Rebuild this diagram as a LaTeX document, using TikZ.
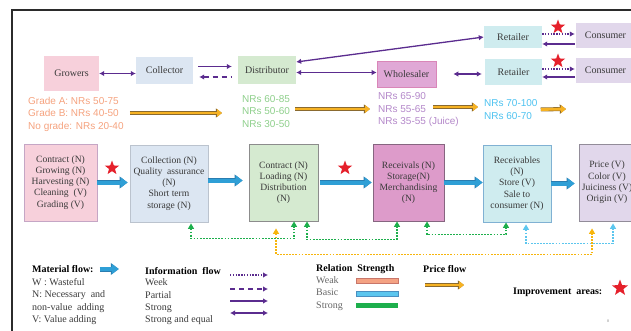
\documentclass[tikz,border=0pt]{standalone}
\usepackage{fontspec}
\setmainfont{Liberation Serif}
\setsansfont{Liberation Sans}
\usetikzlibrary{arrows.meta,shapes.geometric}

\definecolor{infopurple}{HTML}{5B2C8F}
\definecolor{matblue}{HTML}{2F9FD6}
\definecolor{matedge}{HTML}{2A7DB0}
\definecolor{pricegold}{HTML}{F6B223}
\definecolor{priceedge}{HTML}{8A6A30}
\definecolor{growpink}{HTML}{F7D0DB}
\definecolor{collblue}{HTML}{DCE6F2}
\definecolor{distgreen}{HTML}{D5EAD0}
\definecolor{wholemag}{HTML}{E0A8D6}
\definecolor{retcyan}{HTML}{CFECEF}
\definecolor{conslav}{HTML}{E1D7EB}
\definecolor{weakred}{HTML}{F4A283}
\definecolor{weakedge}{HTML}{C8766A}
\definecolor{basicblue}{HTML}{5CC6EE}
\definecolor{basicedge}{HTML}{4A8FC0}
\definecolor{stronggreen}{HTML}{1DAF4C}
\definecolor{weakgold}{HTML}{F7B50C}
\definecolor{priceorange}{HTML}{F5A27E}
\definecolor{pricegreen}{HTML}{8ECF8B}
\definecolor{pricepurple}{HTML}{B387C9}
\definecolor{pricecyan}{HTML}{4DC2F0}
\definecolor{starred}{HTML}{E5202B}
\definecolor{txtgray}{HTML}{3A3A3A}
\definecolor{framegray}{HTML}{2B2B2B}

\tikzset{
  actor/.style={inner sep=0pt, text=txtgray, font=\fontsize{10}{12}\selectfont},
  stagebox/.style={line width=0.8pt, inner sep=1pt, align=center, text=txtgray,
    font=\fontsize{9.6}{11.2}\selectfont, minimum height=77pt},
  pricetxt/.style={inner sep=0pt, align=left, anchor=west, font=\sffamily\fontsize{10}{12.5}\selectfont},
  info/.style={draw=infopurple, line width=1.3pt},
  weekline/.style={dash pattern=on 1.3pt off 1.5pt},
  partline/.style={dash pattern=on 5pt off 4pt},
  material/.style={line width=4pt, draw=matblue, -{Triangle[length=7pt,width=10pt]},
    preaction={draw=matedge, line width=5pt, -{Triangle[length=8pt,width=11.5pt]}}},
  price/.style={line width=2.8pt, draw=pricegold, -{Triangle[length=5pt,width=7.5pt]},
    preaction={draw=priceedge, line width=4pt, -{Triangle[length=6.2pt,width=9pt]}}},
  relation/.style={line width=1.8pt, dash pattern=on 1.8pt off 1.3pt,
    {Triangle[length=5.5pt,width=6pt]}-{Triangle[length=5.5pt,width=6pt]}},
  improve/.style={star, star points=5, star point ratio=2.4, fill=starred, inner sep=0pt, minimum size=15pt},
  leghead/.style={inner sep=0pt, anchor=west, font=\bfseries\fontsize{10}{12}\selectfont},
  legtxt/.style={inner sep=0pt, anchor=west, align=left, text=txtgray, font=\fontsize{10}{12.3}\selectfont},
}

\begin{document}
\begin{tikzpicture}[x=1pt,y=-1pt,>={Latex[length=5pt,width=5.5pt]}]
\useasboundingbox (0,0) rectangle (631,331);
\draw[line width=2.5pt, framegray] (12,345) -- (12,10) -- (645,10);

% actors
\node[actor, fill=growpink, minimum width=55pt, minimum height=35pt] (gro) at (71.5,73.5) {Growers};
\node[actor, fill=collblue, minimum width=57pt, minimum height=27pt] (col) at (164.5,70.5) {Collector};
\node[actor, fill=distgreen, minimum width=58pt, minimum height=28pt] (dis) at (267,70) {Distributor};
\node[actor, fill=wholemag, draw=wholemag!80!purple, line width=0.6pt, minimum width=59pt, minimum height=26pt] (whl) at (406.5,74) {Wholesaler};
\node[actor, fill=retcyan, minimum width=58pt, minimum height=22pt] (retA) at (513,37) {Retailer};
\node[actor, fill=conslav, minimum width=59pt, minimum height=25pt] (conA) at (605.5,35.5) {Consumer};
\node[actor, fill=retcyan, minimum width=57pt, minimum height=26pt] (retB) at (513.5,72) {Retailer};
\node[actor, fill=conslav, minimum width=59pt, minimum height=25pt] (conB) at (605.5,70.5) {Consumer};

% information flow
\draw[info, <->] (gro.east) -- (gro.east -| col.west);
\coordinate (cd1) at ([yshift=4pt]col.east);
\coordinate (cd2) at ([yshift=-6.5pt]col.east);
\draw[info, ->, shorten <=5pt, shorten >=6pt] (cd1) -- (cd1 -| dis.west);
\draw[info, partline, <-, shorten <=6pt, shorten >=6pt] (cd2) -- (cd2 -| dis.west);
\draw[info, <->] ([yshift=8pt]dis.east) -- (retA.west);
\coordinate (dw) at ([yshift=-2.5pt]dis.east);
\draw[info, <->] (dw) -- (dw -| whl.west);
\draw[info, <->, shorten <=17pt, shorten >=3pt] (whl.east) -- (whl.east -| retB.west);
\coordinate (rc1) at ([yshift=3pt]retA.east);
\coordinate (rc2) at ([yshift=-7pt]retA.east);
\draw[info, weekline, ->, shorten >=1pt] (rc1) -- (rc1 -| conA.west);
\draw[info, <-, shorten >=1pt] (rc2) -- (rc2 -| conA.west);
\coordinate (rc3) at ([yshift=3pt]retB.east);
\coordinate (rc4) at ([yshift=-5pt]retB.east);
\draw[info, weekline, ->, shorten >=1pt] (rc3) -- (rc3 -| conB.west);
\draw[info, <-, shorten >=1pt] (rc4) -- (rc4 -| conB.west);
\node[improve] (stA) at (558,27) {};
\node[improve] (stB) at (558,61) {};

% prices
\node[pricetxt, text=priceorange] (pGro) at (28,114) {Grade A: NRs 50-75\\Grade B: NRs 40-50\\No grade: NRs 20-40};
\node[pricetxt, text=pricegreen] (pDis) at (242,111.5) {NRs 60-85\\NRs 50-60\\NRs 30-50};
\node[pricetxt, text=pricepurple] (pWhl) at (378,110) {NRs 65-90\\NRs 55-65\\NRs 35-55 (Juice)};
\node[pricetxt, text=pricecyan] (pRet) at (484,109.5) {NRs 70-100\\NRs 60-70};
\coordinate (pg1) at ([xshift=6pt,yshift=1pt]pGro.east);
\draw[price, shorten >=20pt] (pg1) -- (pg1 -| pDis.west);
\coordinate (pd1) at ([xshift=5pt,yshift=2.5pt]pDis.east);
\draw[price, shorten >=8pt] (pd1) -- (pd1 -| pWhl.west);
\coordinate (pw1) at ([xshift=55pt,yshift=3pt]pWhl.west);
\draw[price, shorten >=6pt] (pw1) -- (pw1 -| pRet.west);
\coordinate (pEnd) at (566,109);
\draw[price] ([xshift=3pt]pRet.east) -- (pEnd);

% stages
\node[stagebox, fill=growpink, draw=black!30!violet!35, minimum width=73pt] (sGro) at (60.5,182.5)
  {Contract (N)\\Growing (N)\\Harvesting (N)\\Cleaning\ \ (V)\\Grading (V)};
\node[stagebox, fill=collblue, draw=collblue!85!black, minimum width=78pt] (sCol) at (169,183.5)
  {Collection (N)\\Quality\ \ assurance\\(N)\\Short term\\storage (N)};
\node[stagebox, fill=distgreen, draw=black!45, minimum width=69pt] (sDis) at (283.5,182.5)
  {Contract (N)\\Loading (N)\\Distribution\\(N)};
\node[stagebox, fill=wholemag!92!purple, draw=wholemag!60!black, minimum width=71pt] (sWhl) at (408.5,182.5)
  {Receivals (N)\\Storage(N)\\Merchandising\\(N)};
\node[stagebox, fill=retcyan, draw=basicedge!70, minimum width=68pt] (sRet) at (517,183.5)
  {Receivables\\(N)\\Store (V)\\Sale to\\consumer (N)};
\node[stagebox, fill=conslav, draw=conslav!65!black, minimum width=56pt] (sCon) at (607,182.5)
  {Price (V)\\Color (V)\\Juiciness (V)\\Origin (V)};

% material flow
\draw[material, shorten >=2pt] (sGro.east) -- (sGro.east -| sCol.west);
\coordinate (mc1) at ([yshift=3pt]sCol.east);
\draw[material, shorten >=6pt] (mc1) -- (mc1 -| sDis.west);
\coordinate (mc2) at ([xshift=2pt]sDis.east);
\draw[material, shorten >=1pt] (mc2) -- (mc2 -| sWhl.west);
\draw[material] (sWhl.east) -- (sWhl.east -| sRet.west);
\draw[material, shorten >=4pt] (sRet.east) -- (sRet.east -| sCon.west);
\node[improve] (stC) at (112,168) {};
\node[improve] (stD) at (345,168) {};

% relation strength
\draw[relation, stronggreen, shorten <=1pt] ([xshift=22pt]sCol.south) -- ++(0,16) -| ([xshift=10.5pt]sDis.south);
\draw[relation, stronggreen] ([xshift=23.5pt]sDis.south) -- ++(0,18) -| ([xshift=-11.5pt]sWhl.south);
\draw[relation, stronggreen] ([xshift=18.5pt]sWhl.south) -- ++(0,13) -| ([xshift=-11pt]sRet.south);
\draw[relation, weakgold] ([xshift=-7.5pt,yshift=-7pt]sDis.south) -- ++(0,26) -| ([xshift=-15pt,yshift=-7pt]sCon.south);
\draw[relation, basicblue] ([xshift=9pt,yshift=-2pt]sRet.south) -- ++(0,19) -| ([xshift=6pt,yshift=-2pt]sCon.south);

% legend
\node[leghead] (lgMat) at (32,269) {Material flow:};
\draw[material] ([xshift=6pt]lgMat.east) -- ++(19,0);
\node[legtxt] (lgMatL) at (32,301.5) {W : Wasteful\\N: Necessary\ \ and\\non-value\ \ adding\\V: Value adding};
\node[leghead] (lgInfo) at (145,271) {Information\ \ flow};
\node[legtxt] (lgInfoL) at (145,302) {Week\\Partial\\Strong\\Strong and equal};
\draw[info, weekline, ->] (230,275) -- (268,275);
\draw[info, partline, ->] (230,289) -- (268,289);
\draw[info, ->] (230,301) -- (268,301);
\draw[info, <->] (230,313) -- (268,313);
\node[leghead] (lgRel) at (316,269) {Relation\ \ Strength};
\node[legtxt, text=black!60] (lgRelL) at (316,293.5) {Weak\\Basic\\Strong};
\draw[fill=weakred, draw=weakedge, line width=0.6pt] (356,278) rectangle (398,283.5);
\draw[fill=basicblue, draw=basicedge, line width=0.6pt] (356,291) rectangle (398,296.5);
\fill[stronggreen] (356,302.5) rectangle (398,308.3);
\node[leghead] (lgPrice) at (423,269) {Price flow};
\draw[price] (425,285) -- (464,285);
\node[leghead] (lgImp) at (513,292) {Improvement\ \ areas:};
\node[improve, minimum size=17pt] (stE) at (620,288) {};
\node[inner sep=0pt, text=black!50, font=\fontsize{4}{4}\selectfont] (pageNo) at (608,321) {8};
\end{tikzpicture}
\end{document}
